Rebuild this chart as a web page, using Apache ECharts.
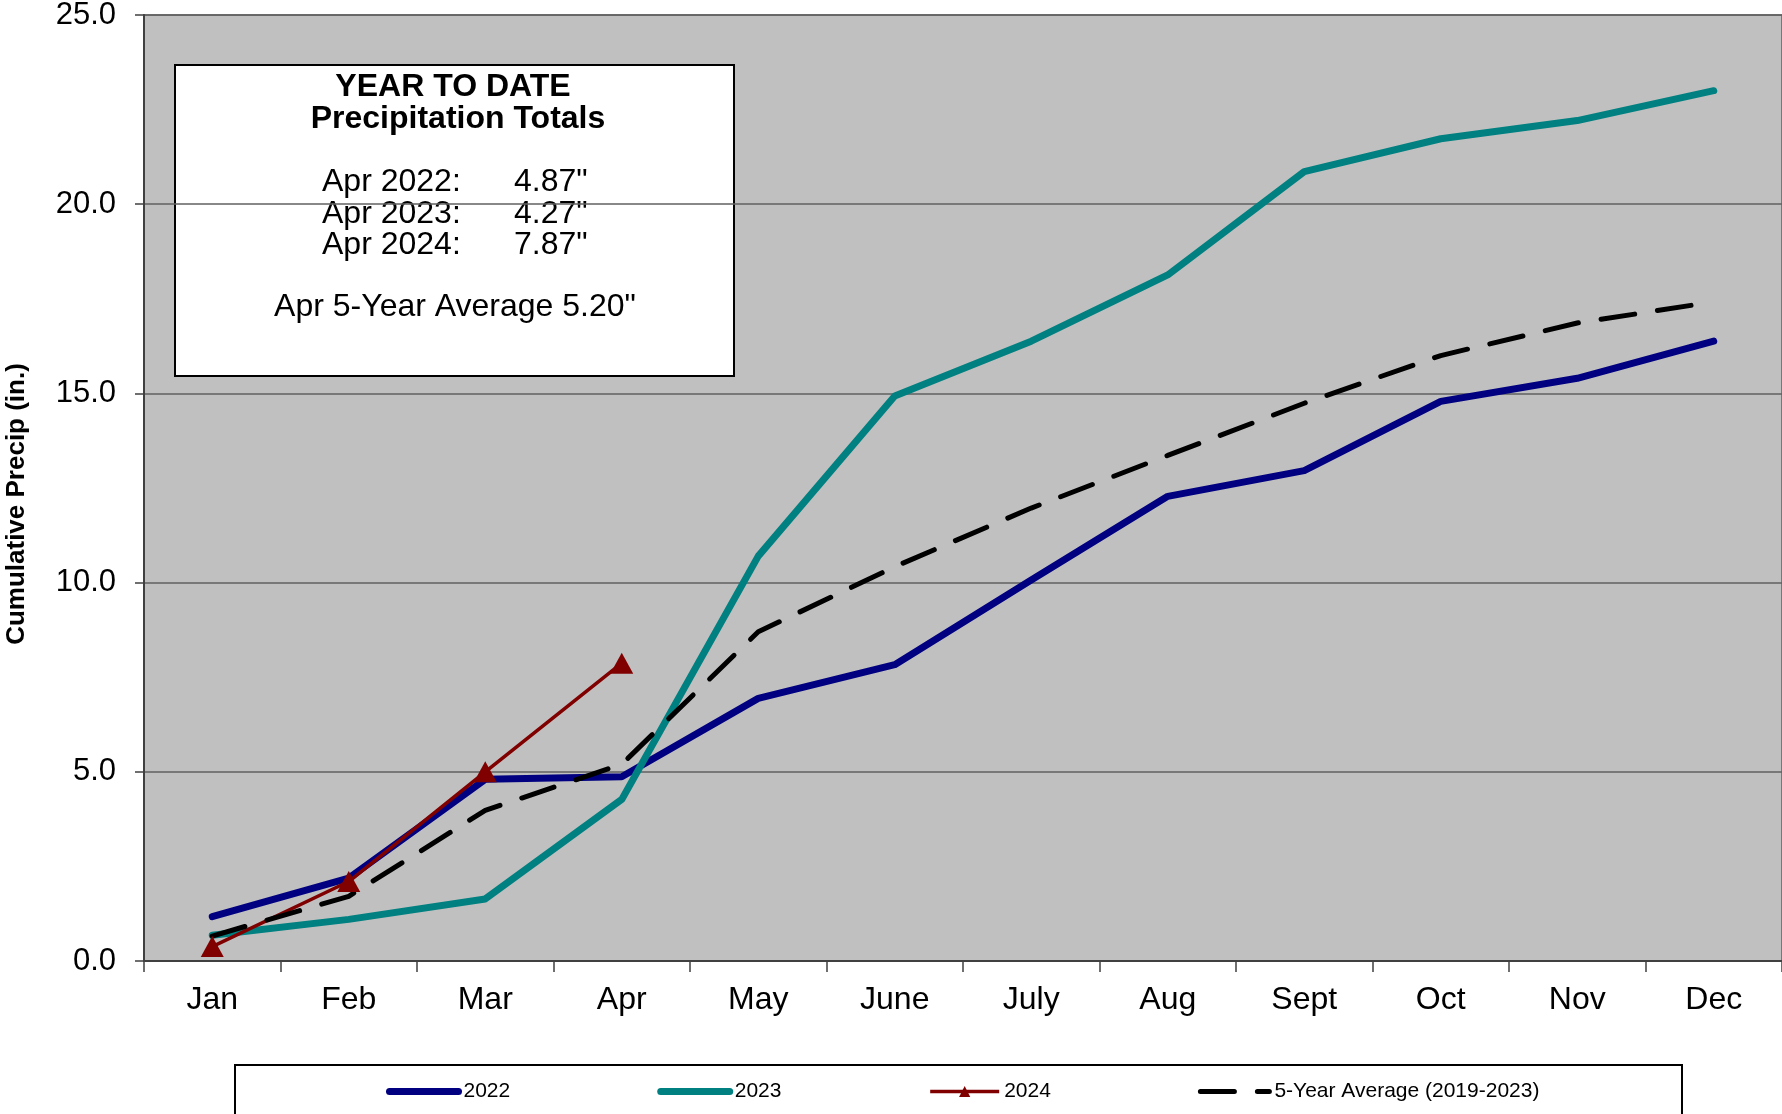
<!DOCTYPE html>
<html><head><meta charset="utf-8">
<script src="https://cdn.jsdelivr.net/npm/echarts@6/dist/echarts.min.js"></script>
<style>html,body{margin:0;padding:0;background:#fff}#chart{width:1782px;height:1114px}</style>
</head><body><div id="chart"></div>
<script>
const months = ['Jan','Feb','Mar','Apr','May','June','July','Aug','Sept','Oct','Nov','Dec'];
const yTicks = [0, 5, 10, 15, 20, 25];
const precip2022 = [1.17, 2.19, 4.80, 4.87, 6.94, 7.83, 10.07, 12.28, 12.96, 14.79, 15.40, 16.38];
const precip2023 = [0.68, 1.10, 1.64, 4.27, 10.70, 14.93, 16.38, 18.13, 20.86, 21.73, 22.21, 23.00];
const precip2024 = [0.38, 2.10, 5.00, 7.87];
const avg5yr = [0.66, 1.71, 3.98, 5.20, 8.70, 10.42, 11.97, 13.36, 14.74, 16.00, 16.86, 17.42];
const seriesNames = ['2022', '2023', '2024', '5-Year Average (2019-2023)'];
const boxTitle = ['YEAR TO DATE', 'Precipitation Totals'];
const boxRows = [['Apr 2022:', '4.87"'], ['Apr 2023:', '4.27"'], ['Apr 2024:', '7.87"']];
const boxAvg = 'Apr 5-Year Average 5.20"';

const FONT = "'Liberation Sans', Arial, sans-serif";
const chart = echarts.init(document.getElementById('chart'), null, {renderer: 'canvas'});

const boxEls = [
  {type: 'rect', shape: {x: 175, y: 65, width: 559, height: 311},
   style: {fill: '#fff', stroke: '#000', lineWidth: 2}},
  {type: 'text', style: {text: boxTitle[0], x: 453, y: 87, font: 'bold 32px ' + FONT, fill: '#000', textAlign: 'center', textVerticalAlign: 'middle'}},
  {type: 'text', style: {text: boxTitle[1], x: 458, y: 119, font: 'bold 32px ' + FONT, fill: '#000', textAlign: 'center', textVerticalAlign: 'middle'}},
  {type: 'text', style: {text: boxAvg, x: 455, y: 307, font: '32px ' + FONT, fill: '#000', textAlign: 'center', textVerticalAlign: 'middle'}}
];
boxRows.forEach((r, i) => {
  const y = 182.5 + i * 31.5;
  boxEls.push({type: 'text', style: {text: r[0], x: 322, y: y, font: '32px ' + FONT, fill: '#000', textAlign: 'left', textVerticalAlign: 'middle'}});
  boxEls.push({type: 'text', style: {text: r[1], x: 514, y: y, font: '32px ' + FONT, fill: '#000', textAlign: 'left', textVerticalAlign: 'middle'}});
});

const hideDot = {color: 'rgba(0,0,0,0)', borderWidth: 0};

const option = {
  animation: false,
  backgroundColor: '#fff',
  textStyle: {fontFamily: FONT},
  grid: {left: 144, right: 0, top: 15, bottom: 153, show: true, outerBoundsMode: 'none', containLabel: false,
         backgroundColor: '#C0C0C0', borderColor: '#606060', borderWidth: 1.5},
  xAxis: {
    type: 'category', data: months, boundaryGap: true,
    axisLine: {lineStyle: {color: '#404040', width: 2}},
    axisTick: {show: true, length: 11, interval: 0, lineStyle: {color: '#404040', width: 1.5}},
    axisLabel: {color: '#000', fontSize: 32, fontFamily: FONT, margin: 23, interval: 0},
    splitLine: {show: false}
  },
  yAxis: {
    type: 'value', min: yTicks[0], max: yTicks[yTicks.length - 1], interval: 5,
    name: 'Cumulative Precip (in.)', nameLocation: 'middle', nameRotate: 90, nameGap: 114,
    nameTextStyle: {color: '#000', fontSize: 26, fontWeight: 'bold', fontFamily: FONT, padding: [0, 32, 0, 0]},
    axisLine: {show: true, lineStyle: {color: '#404040', width: 2}},
    axisTick: {show: true, length: 9, lineStyle: {color: '#404040', width: 1.5}},
    axisLabel: {color: '#000', fontSize: 31, fontFamily: FONT, margin: 28, formatter: v => v.toFixed(1)},
    splitLine: {show: true, lineStyle: {color: '#606060', width: 1.5}}
  },
  legend: {
    data: [
      {name: seriesNames[0], itemStyle: hideDot},
      {name: seriesNames[1], itemStyle: hideDot},
      {name: seriesNames[2]},
      {name: seriesNames[3], itemStyle: hideDot}
    ],
    left: 381, top: 1076, itemWidth: 69, itemHeight: 14, itemGap: 147,
    lineStyle: {width: 'inherit'},
    textStyle: {color: '#000', fontSize: 21, fontFamily: FONT}
  },
  graphic: [
    {type: 'rect', z: -1, shape: {x: 235, y: 1065, width: 1447, height: 80},
     style: {fill: '#fff', stroke: '#000', lineWidth: 2}},
    {type: 'group', z: 100, children: boxEls}
  ],
  series: [
    {name: seriesNames[0], type: 'line', data: precip2022, symbol: 'none',
     itemStyle: {color: '#000080'}, lineStyle: {color: '#000080', width: 7, cap: 'round', join: 'round'}},
    {name: seriesNames[1], type: 'line', data: precip2023, symbol: 'none',
     itemStyle: {color: '#008080'}, lineStyle: {color: '#008080', width: 7, cap: 'round', join: 'round'}},
    {name: seriesNames[2], type: 'line', data: precip2024, symbol: 'triangle', symbolSize: [23, 21],
     itemStyle: {color: '#800000'}, lineStyle: {color: '#800000', width: 3.5, join: 'round'}},
    {name: seriesNames[3], type: 'line', data: avg5yr, symbol: 'none',
     itemStyle: {color: '#000'}, lineStyle: {color: '#000', width: 5, type: [34, 23], cap: 'round', join: 'round'}}
  ]
};
chart.setOption(option);
</script>
</body></html>
